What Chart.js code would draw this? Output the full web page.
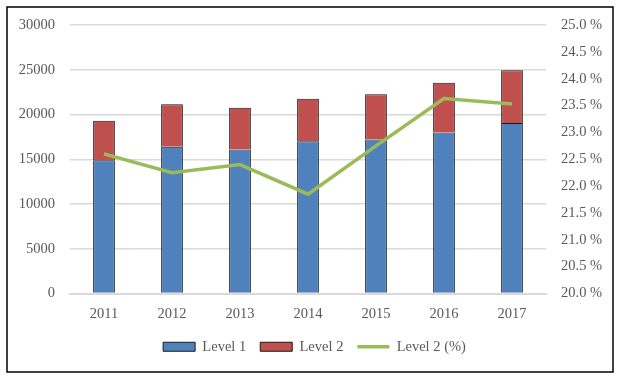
<!DOCTYPE html>
<html>
<head>
<meta charset="utf-8">
<script src="https://cdn.jsdelivr.net/npm/chart.js@4/dist/chart.umd.min.js"></script>
<style>
    html, body { margin: 0; padding: 0; background: #fff; }
    #wrap { width: 617px; height: 379px; }
</style>
</head>
<body>
<div id="wrap"><canvas id="id_grafica"></canvas></div>
<script>
//------------------------DATOS---------------------------
const anios = ['2011', '2012', '2013', '2014', '2015', '2016', '2017'];
const nivel1 = [14900, 16400, 16100, 17000, 17200, 18000, 19050];
const nivel2 = [4400, 4750, 4650, 4750, 5050, 5550, 5900];
const nivel2Pct = [22.6, 22.25, 22.4, 21.85, 22.75, 23.63, 23.53];

const colorAzul = '#4F81BD';
const colorRojo = '#C0504D';
const colorVerde = '#9BBB59';
const colorTexto = '#595959';
const colorGrid = '#d9d9d9';
const fuente = { family: "'Liberation Serif', 'Times New Roman', serif", size: 14.5 };

//marco negro alrededor de todo + leyenda un poco a la derecha
const marco = {
    id: 'marco',
    afterLayout: (chart) => {
        chart.legend.left += 6;
        chart.legend.right += 6;
    },
    afterDraw: (chart) => {
        const c = chart.ctx;
        c.save();
        c.strokeStyle = '#000';
        c.lineWidth = 1.5;
        c.strokeRect(7, 7, 606, 365);
        c.restore();
    }
};

let ctx = document.getElementById('id_grafica').getContext('2d');
let chart = new Chart(ctx, {
    type: 'bar',
    data: {
        labels: anios,
        datasets: [{
            type: 'line',
            label: 'Level 2 (%)',
            data: nivel2Pct,
            yAxisID: 'y1',
            borderColor: colorVerde,
            backgroundColor: colorVerde,
            borderWidth: 3.5,
            pointRadius: 0,
            tension: 0,
            order: 0
        }, {
            label: 'Level 1',
            data: nivel1,
            backgroundColor: colorAzul,
            borderColor: '#1a1a1a',
            borderWidth: 1,
            barPercentage: 0.32,
            categoryPercentage: 1,
            order: 1
        }, {
            label: 'Level 2',
            data: nivel2,
            backgroundColor: colorRojo,
            borderColor: '#1a1a1a',
            borderWidth: 1,
            barPercentage: 0.32,
            categoryPercentage: 1,
            order: 1
        }]
    },
    options: {
        responsive: true,
        maintainAspectRatio: false,
        animation: false,
        layout: { padding: { top: 25, left: 0, right: 0, bottom: 15 } },
        plugins: {
            tooltip: { enabled: false },
            legend: {
                position: 'bottom',
                labels: {
                    color: colorTexto,
                    font: fuente,
                    usePointStyle: true,
                    pointStyleWidth: 32,
                    boxHeight: 9,
                    padding: 14,
                    sort: (a, b) => a.datasetIndex === 0 ? 1 : (b.datasetIndex === 0 ? -1 : a.datasetIndex - b.datasetIndex),
                    generateLabels: (chart) => {
                        const items = Chart.defaults.plugins.legend.labels.generateLabels(chart);
                        items.forEach(it => {
                            it.pointStyle = it.datasetIndex === 0 ? 'line' : 'rect';
                            if (it.datasetIndex === 0) it.lineWidth = 3.5;
                        });
                        return items;
                    }
                }
            }
        },
        scales: {
            x: {
                stacked: true,
                grid: { display: false, drawTicks: false },
                border: { display: true, color: colorGrid, width: 2 },
                ticks: { color: colorTexto, font: fuente, padding: 12 },
                afterFit: (s) => { s.height = 32; }
            },
            y: {
                stacked: true,
                min: 0,
                max: 30000,
                ticks: {
                    stepSize: 5000,
                    color: colorTexto,
                    font: fuente,
                    padding: 15,
                    callback: (v) => String(v)
                },
                grid: { color: colorGrid, lineWidth: 1.5, drawTicks: false },
                border: { display: false },
                afterFit: (s) => { s.width = 70; }
            },
            y1: {
                position: 'right',
                stacked: false,
                min: 20,
                max: 25,
                ticks: {
                    stepSize: 0.5,
                    color: colorTexto,
                    font: fuente,
                    padding: 15,
                    callback: (v) => v.toFixed(1) + ' %'
                },
                grid: { drawOnChartArea: false, drawTicks: false },
                border: { display: false },
                afterFit: (s) => { s.width = 71; }
            }
        }
    },
    plugins: [marco]
});
</script>
</body>
</html>
